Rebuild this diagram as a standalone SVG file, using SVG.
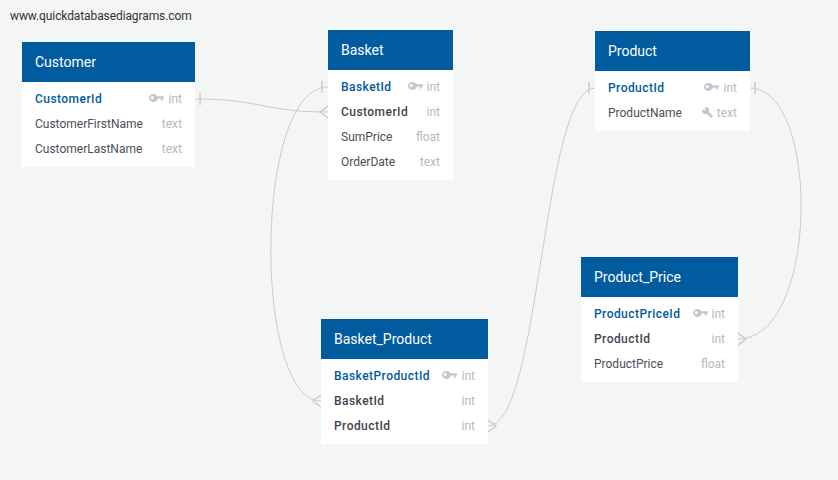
<svg xmlns="http://www.w3.org/2000/svg" width="838" height="480" viewBox="0 0 838 480">
<style>
text{font-family:Roboto,"Liberation Sans",Arial,sans-serif;font-size:12px;fill:#4a4f57}
.url{fill:#333;letter-spacing:-.1px}
.hdr{fill:#005b9f}
.body{fill:#fff}
.title{font-size:14px;fill:#fff}
.pk{font-weight:500;fill:#005b9f;letter-spacing:.45px}
.fk{font-weight:500;fill:#40454d;letter-spacing:.45px}
.type{fill:#b4b9c0;text-anchor:end}
.conn path{fill:none;stroke:#c9cbca;stroke-width:1}
.conn path.end{stroke-width:1.5}
.ico{fill:#c3c8d0}
</style>
<defs>
<g id="key"><path class="ico" fill-rule="evenodd" d="M-4.5 0a4.5 4 0 1 0 9 0a4.5 4 0 1 0-9 0zM-2.8 -.6a1.5 1.5 0 1 0 3 0a1.5 1.5 0 1 0-3 0z"/><path class="ico" d="M3.5 -1.7H10.5V.6H9.2V2.6H7.2V.6H3.5z"/></g>
<g id="ikey"><circle class="ico" cx="3.6" cy="3.6" r="3.6"/><path class="ico" d="M4.5 6.5L6.5 4.5L11 9L9 11z"/><path fill="#fff" d="M0 0L3 0L3.5 3L0.5 3.2z"/></g>
</defs>
<rect width="838" height="480" fill="#f4f6f6"/>
<text class="url" x="10" y="20">www.quickdatabasediagrams.com</text>
<g class="conn" id="connectors">
<path d="M195 99C262 99 262 112 328 112"/><path class="end" d="M200 93V105"/><path class="end" d="M328 106L320 112L328 118"/>
<path d="M328 87C253 87 253 401 321 401"/><path class="end" d="M322 81V93"/><path class="end" d="M321 395L313 401L321 407"/>
<path d="M488 426C541 426 542 88 595 88"/><path class="end" d="M589 82V94"/><path class="end" d="M488 420L496 426L488 432"/>
<path d="M750 88C820 88 820 339 738 339"/><path class="end" d="M755 82V94"/><path class="end" d="M738 333L746 339L738 345"/>
</g>
<g id="Customer">
<rect class="body" x="22" y="82" width="173" height="85"/><rect class="hdr" x="22" y="42" width="173" height="40"/>
<text class="title" x="35" y="67">Customer</text>
<text class="pk" x="35" y="103">CustomerId</text><use href="#key" x="153.5" y="98"/><text class="type" x="182" y="103">int</text>
<text x="35" y="128">CustomerFirstName</text><text class="type" x="182" y="128">text</text>
<text x="35" y="153">CustomerLastName</text><text class="type" x="182" y="153">text</text>
</g>
<g id="Basket">
<rect class="body" x="328" y="70" width="125" height="110"/><rect class="hdr" x="328" y="30" width="125" height="40"/>
<text class="title" x="341" y="55">Basket</text>
<text class="pk" x="341" y="91">BasketId</text><use href="#key" x="412.5" y="86"/><text class="type" x="440" y="91">int</text>
<text class="fk" x="341" y="116">CustomerId</text><text class="type" x="440" y="116">int</text>
<text x="341" y="141">SumPrice</text><text class="type" x="440" y="141">float</text>
<text x="341" y="166">OrderDate</text><text class="type" x="440" y="166">text</text>
</g>
<g id="Product">
<rect class="body" x="595" y="71" width="155" height="60"/><rect class="hdr" x="595" y="31" width="155" height="40"/>
<text class="title" x="608" y="56">Product</text>
<text class="pk" x="608" y="92">ProductId</text><use href="#key" x="708.5" y="87"/><text class="type" x="737" y="92">int</text>
<text x="608" y="117">ProductName</text><use href="#ikey" x="702" y="107"/><text class="type" x="737" y="117">text</text>
</g>
<g id="Product_Price">
<rect class="body" x="581" y="297" width="157" height="85"/><rect class="hdr" x="581" y="257" width="157" height="40"/>
<text class="title" x="594" y="282">Product_Price</text>
<text class="pk" x="594" y="318">ProductPriceId</text><use href="#key" x="697.5" y="313"/><text class="type" x="725" y="318">int</text>
<text class="fk" x="594" y="343">ProductId</text><text class="type" x="725" y="343">int</text>
<text x="594" y="368">ProductPrice</text><text class="type" x="725" y="368">float</text>
</g>
<g id="Basket_Product">
<rect class="body" x="321" y="359" width="167" height="85"/><rect class="hdr" x="321" y="319" width="167" height="40"/>
<text class="title" x="334" y="344">Basket_Product</text>
<text class="pk" x="334" y="380">BasketProductId</text><use href="#key" x="446.5" y="375"/><text class="type" x="475" y="380">int</text>
<text class="fk" x="334" y="405">BasketId</text><text class="type" x="475" y="405">int</text>
<text class="fk" x="334" y="430">ProductId</text><text class="type" x="475" y="430">int</text>
</g>
</svg>
